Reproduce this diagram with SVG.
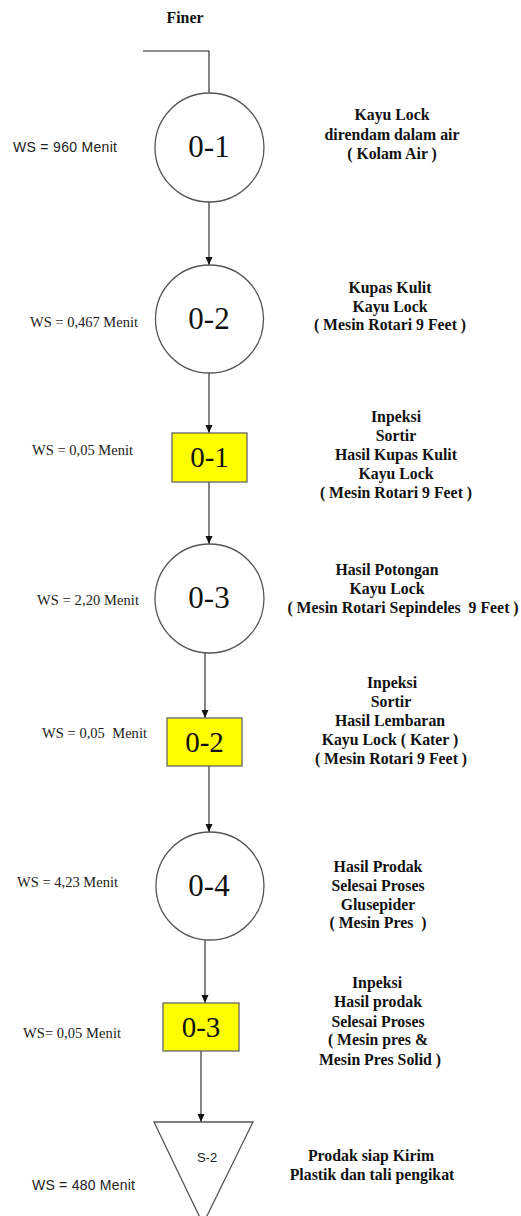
<svg xmlns="http://www.w3.org/2000/svg" width="521" height="1216" viewBox="0 0 521 1216">
<style>
.bg{fill:#ffffff}
.circ{fill:#ffffff;stroke:#555555;stroke-width:1.3}
.box{fill:#ffff00;stroke:#666666;stroke-width:1.3}
.tri{fill:#ffffff;stroke:#555555;stroke-width:1.3}
.ln{fill:none;stroke:#222222;stroke-width:1.1}
.num{font-family:"Liberation Serif","Times New Roman",serif;font-size:31px;fill:#111;text-anchor:middle}
.bnum{font-family:"Liberation Serif","Times New Roman",serif;font-size:29px;fill:#111;text-anchor:middle}
.desc{font-family:"Liberation Serif","Times New Roman",serif;font-size:15.8px;font-weight:bold;fill:#111;text-anchor:middle;white-space:pre}
.ws{font-family:"Liberation Serif","Times New Roman",serif;font-size:14.5px;fill:#222}
.wss{font-family:"Liberation Sans",Arial,sans-serif;font-size:14px;fill:#222}
.s2{font-family:"Liberation Sans",Arial,sans-serif;font-size:13px;fill:#222;text-anchor:middle}
</style>
<defs>
<marker id="arr" markerUnits="userSpaceOnUse" markerWidth="8" markerHeight="9" refX="8" refY="3.5" orient="auto">
<path d="M0,0 L8,3.5 L0,7 z" fill="#111"/>
</marker>
</defs>
<rect class="bg" x="0" y="0" width="521" height="1216"/>
<text class="desc" x="185" y="23">Finer</text>

<g id="connectors">
<polyline class="ln" points="143,51 209,51 209,93"/>
<line class="ln" x1="209" y1="202" x2="209" y2="265" marker-end="url(#arr)"/>
<line class="ln" x1="209" y1="373" x2="209" y2="433" marker-end="url(#arr)"/>
<line class="ln" x1="209" y1="482" x2="209" y2="544" marker-end="url(#arr)"/>
<line class="ln" x1="205" y1="653" x2="205" y2="718" marker-end="url(#arr)"/>
<line class="ln" x1="209" y1="766" x2="209" y2="832" marker-end="url(#arr)"/>
<line class="ln" x1="205" y1="940" x2="205" y2="1003" marker-end="url(#arr)"/>
<line class="ln" x1="201" y1="1051" x2="201" y2="1122" marker-end="url(#arr)"/>
</g>

<g id="op1">
<circle class="circ" cx="209.5" cy="147.5" r="54.5"/>
<text class="num" x="209" y="157">0-1</text>
<text class="wss" x="13" y="152" textLength="104">WS = 960 Menit</text>
<text class="desc" x="392" y="120">Kayu Lock</text>
<text class="desc" x="392" y="140">direndam dalam air</text>
<text class="desc" x="392" y="159">( Kolam Air )</text>
</g>

<g id="op2">
<circle class="circ" cx="209.5" cy="319" r="54"/>
<text class="num" x="209" y="329">0-2</text>
<text class="ws" x="30" y="327" textLength="108">WS = 0,467 Menit</text>
<text class="desc" x="390" y="293">Kupas Kulit</text>
<text class="desc" x="390" y="312">Kayu Lock</text>
<text class="desc" x="390" y="330">( Mesin Rotari 9 Feet )</text>
</g>

<g id="insp1">
<rect class="box" x="172" y="433" width="75" height="49"/>
<text class="bnum" x="209.5" y="467">0-1</text>
<text class="ws" x="32" y="455" textLength="101">WS = 0,05 Menit</text>
<text class="desc" x="396" y="422">Inpeksi</text>
<text class="desc" x="396" y="441">Sortir</text>
<text class="desc" x="396" y="460">Hasil Kupas Kulit</text>
<text class="desc" x="396" y="479">Kayu Lock</text>
<text class="desc" x="396" y="498">( Mesin Rotari 9 Feet )</text>
</g>

<g id="op3">
<circle class="circ" cx="209.5" cy="598.5" r="54.5"/>
<text class="num" x="209" y="608">0-3</text>
<text class="ws" x="37" y="605" textLength="102">WS = 2,20 Menit</text>
<text class="desc" x="387" y="575">Hasil Potongan</text>
<text class="desc" x="387" y="594">Kayu Lock</text>
<text class="desc" x="403" y="613">( Mesin Rotari Sepindeles  9 Feet )</text>
</g>

<g id="insp2">
<rect class="box" x="167" y="718" width="75" height="48"/>
<text class="bnum" x="204.5" y="752">0-2</text>
<text class="ws" x="42" y="738" textLength="105" style="white-space:pre">WS = 0,05  Menit</text>
<text class="desc" x="392" y="688">Inpeksi</text>
<text class="desc" x="391" y="707">Sortir</text>
<text class="desc" x="390" y="726">Hasil Lembaran</text>
<text class="desc" x="390" y="745">Kayu Lock ( Kater )</text>
<text class="desc" x="391" y="764">( Mesin Rotari 9 Feet )</text>
</g>

<g id="op4">
<circle class="circ" cx="210" cy="886" r="54"/>
<text class="num" x="209" y="896">0-4</text>
<text class="ws" x="17" y="887" textLength="101">WS = 4,23 Menit</text>
<text class="desc" x="378" y="872">Hasil Prodak</text>
<text class="desc" x="378" y="891">Selesai Proses</text>
<text class="desc" x="378" y="910">Glusepider</text>
<text class="desc" x="378" y="928">( Mesin Pres  )</text>
</g>

<g id="insp3">
<rect class="box" x="163" y="1003" width="76" height="48"/>
<text class="bnum" x="201" y="1037">0-3</text>
<text class="ws" x="23" y="1038" textLength="98">WS= 0,05 Menit</text>
<text class="desc" x="377" y="988">Inpeksi</text>
<text class="desc" x="378" y="1007">Hasil prodak</text>
<text class="desc" x="378" y="1027">Selesai Proses</text>
<text class="desc" x="378" y="1045">( Mesin pres &amp;</text>
<text class="desc" x="380" y="1065">Mesin Pres Solid )</text>
</g>

<g id="store">
<polygon class="tri" points="154,1122 253,1122 203,1224"/>
<text class="s2" x="207" y="1162">S-2</text>
<text class="wss" x="32" y="1190" textLength="103">WS = 480 Menit</text>
<text class="desc" x="371" y="1161">Prodak siap Kirim</text>
<text class="desc" x="372" y="1180">Plastik dan tali pengikat</text>
</g>
</svg>
